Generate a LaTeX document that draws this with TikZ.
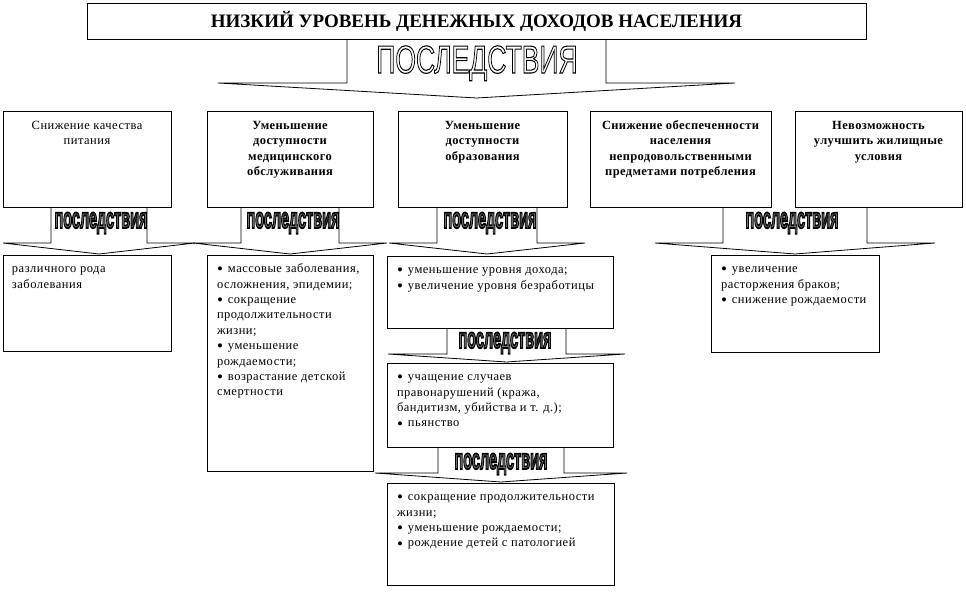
\documentclass[tikz,border=0pt]{standalone}
\usepackage{fontspec}
\setmainfont{Liberation Serif}
\newfontfamily\lsans{Liberation Sans}
\usetikzlibrary{fit}
\newcommand\bodyfont{\fontsize{12.5}{15.4}\selectfont\addfontfeature{LetterSpace=4}}
\newcommand\bodyfontb{\fontsize{12.5}{15.4}\selectfont\bfseries\addfontfeature{LetterSpace=3}}
\newcommand\bul{\raisebox{-2.2pt}{\fontsize{17}{17}\selectfont •}\hspace{5pt}}
\newcommand\biglabel[1]{\scalebox{0.68}[1]{\lsans\fontsize{39}{39}\selectfont\special{pdf:literal direct q 1 Tr 1.1 w 0 G}#1\special{pdf:literal direct 0 Tr Q}}}
\newcommand\smalllabel[1]{\scalebox{0.5}[1]{\lsans\bfseries\fontsize{29}{29}\selectfont\color{black!55}\special{pdf:literal direct q 2 Tr 1.8 w 0 G}#1\special{pdf:literal direct 0 Tr Q}}}
\newcommand\conseqarrow[8]{\draw[arrline] (#1,#5) -- (#1,#6) -- (#3,#6) -- (#7,#8) -- (#4,#6) -- (#2,#6) -- (#2,#5);}
\begin{document}
\begin{tikzpicture}[x=1pt,y=-1pt,line width=0.8pt,
  box/.style={draw, inner sep=0pt, line width=0.8pt},
  arrline/.style={draw, line width=0.8pt, line join=miter},
  txtc/.style={inner sep=0pt, align=center, font=\bodyfont},
  txtcb/.style={inner sep=0pt, align=center, font=\bodyfontb},
  txtl/.style={inner sep=0pt, align=left, font=\bodyfont},
  lbl/.style={inner sep=0pt, anchor=base}]
\useasboundingbox (0,0) rectangle (966,594);
% title
\node[box, fit={(87,3)(866,39)}] (title) {};
\node[inner sep=0pt, font=\fontsize{19}{22}\selectfont\bfseries] (titlet) at (476.5,21) {НИЗКИЙ УРОВЕНЬ ДЕНЕЖНЫХ ДОХОДОВ НАСЕЛЕНИЯ};
% big arrow
\conseqarrow{347}{606}{218}{735}{39}{83}{476.5}{98}
\node[lbl] (bigl) at (477,73) {\biglabel{ПОСЛЕДСТВИЯ}};
% row 2
\node[box, fit={(3,111)(171,207)}] (b1) {};
\node[box, fit={(207,111)(373,207)}] (b2) {};
\node[box, fit={(398,111)(567,207)}] (b3) {};
\node[box, fit={(590,111)(771,207)}] (b4) {};
\node[box, fit={(795,111)(962,207)}] (b5) {};
\node[txtc, anchor=north] (b1t) at ([yshift=-7.5pt]b1.north) {\strut Снижение качества\\питания};
\node[txtcb, anchor=north] (b2t) at ([yshift=-7.5pt]b2.north) {\strut Уменьшение\\доступности\\медицинского\\обслуживания};
\node[txtcb, anchor=north] (b3t) at ([yshift=-7.5pt]b3.north) {\strut Уменьшение\\доступности\\образования};
\node[txtcb, anchor=north] (b4t) at ([yshift=-7.5pt]b4.north) {\strut Снижение обеспеченности\\населения\\непродовольственными\\предметами потребления};
\node[txtcb, anchor=north] (b5t) at ([yshift=-7.5pt]b5.north) {\strut Невозможность\\улучшить жилищные\\условия};
% small arrows
\conseqarrow{51}{147}{3}{195}{207}{243}{99}{254}
\conseqarrow{241}{339}{193}{387}{207}{243}{290}{254}
\conseqarrow{437}{537}{389}{585}{207}{243}{487}{254}
\conseqarrow{723}{867}{655}{935}{207}{243}{795}{254}
\node[lbl] (s1) at (101,228) {\smalllabel{последствия}};
\node[lbl] (s2) at (293,228) {\smalllabel{последствия}};
\node[lbl] (s3) at (490,228) {\smalllabel{последствия}};
\node[lbl] (s4) at (792,228) {\smalllabel{последствия}};
% row 3
\node[box, fit={(3,255)(171,351)}] (l1) {};
\node[box, fit={(207,255)(373,471)}] (l2) {};
\node[box, fit={(387,256)(613,328)}] (l3a) {};
\node[box, fit={(387,363)(613,447)}] (l3b) {};
\node[box, fit={(387,483)(614,585)}] (l3c) {};
\node[box, fit={(711,255)(879,352)}] (l4) {};
\node[txtl, anchor=north west] (l1t) at ([xshift=9pt,yshift=-7pt]l1.north west) {\strut различного рода\\заболевания};
\node[txtl, anchor=north west] (l2t) at ([xshift=10pt,yshift=-7pt]l2.north west) {\strut \bul массовые заболевания,\\осложнения, эпидемии;\\\bul сокращение\\продолжительности\\жизни;\\\bul уменьшение\\рождаемости;\\\bul возрастание детской\\смертности};
\node[txtl, anchor=north west] (l3at) at ([xshift=10pt,yshift=-7pt]l3a.north west) {\strut \bul уменьшение уровня дохода;\\\bul увеличение уровня безработицы};
\node[txtl, anchor=north west] (l3bt) at ([xshift=10pt,yshift=-7pt]l3b.north west) {\strut \bul учащение случаев\\правонарушений (кража,\\бандитизм, убийства и т. д.);\\\bul пьянство};
\node[txtl, anchor=north west] (l3ct) at ([xshift=10pt,yshift=-7pt]l3c.north west) {\strut \bul сокращение продолжительности\\жизни;\\\bul уменьшение рождаемости;\\\bul рождение детей с патологией};
\node[txtl, anchor=north west] (l4t) at ([xshift=10pt,yshift=-7pt]l4.north west) {\strut \bul увеличение\\расторжения браков;\\\bul снижение рождаемости};
% lower arrows in column 3
\conseqarrow{447}{566}{388}{625}{328}{354}{506.5}{362}
\node[lbl] (s5) at (505,348) {\smalllabel{последствия}};
\conseqarrow{438}{564}{375}{627}{447}{473}{501}{482}
\node[lbl] (s6) at (501,469) {\smalllabel{последствия}};
\end{tikzpicture}
\end{document}
